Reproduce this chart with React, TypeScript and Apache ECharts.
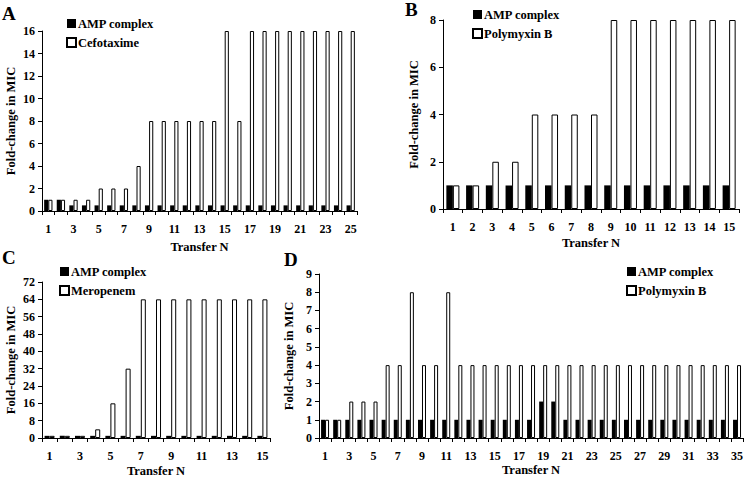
import { useEffect, useRef } from 'react';
import * as echarts from 'echarts';

// Panel A: cefotaxime, 25 transfers
const transfersA = ['1', '2', '3', '4', '5', '6', '7', '8', '9', '10', '11', '12', '13', '14', '15', '16', '17', '18', '19', '20', '21', '22', '23', '24', '25'];
const ampA = [1, 1, 0.5, 0.5, 0.5, 0.5, 0.5, 0.5, 0.5, 0.5, 0.5, 0.5, 0.5, 0.5, 0.5, 0.5, 0.5, 0.5, 0.5, 0.5, 0.5, 0.5, 0.5, 0.5, 0.5];
const cefotaxime = [1, 1, 1, 1, 2, 2, 2, 4, 8, 8, 8, 8, 8, 8, 16, 8, 16, 16, 16, 16, 16, 16, 16, 16, 16];

// Panel B: polymyxin B, 15 transfers
const transfersB = ['1', '2', '3', '4', '5', '6', '7', '8', '9', '10', '11', '12', '13', '14', '15'];
const ampB = [1, 1, 1, 1, 1, 1, 1, 1, 1, 1, 1, 1, 1, 1, 1];
const polymyxinB = [1, 1, 2, 2, 4, 4, 4, 4, 8, 8, 8, 8, 8, 8, 8];

// Panel C: meropenem, 15 transfers
const transfersC = ['1', '2', '3', '4', '5', '6', '7', '8', '9', '10', '11', '12', '13', '14', '15'];
const ampC = [1, 1, 1, 1, 1, 1, 1, 1, 1, 1, 1, 1, 1, 1, 1];
const meropenem = [1, 1, 1, 4, 16, 32, 64, 64, 64, 64, 64, 64, 64, 64, 64];

// Panel D: polymyxin B, 35 transfers
const transfersD = ['1', '2', '3', '4', '5', '6', '7', '8', '9', '10', '11', '12', '13', '14', '15', '16', '17', '18', '19', '20', '21', '22', '23', '24', '25', '26', '27', '28', '29', '30', '31', '32', '33', '34', '35'];
const ampD = [1, 1, 1, 1, 1, 1, 1, 1, 1, 1, 1, 1, 1, 1, 1, 1, 1, 1, 2, 2, 1, 1, 1, 1, 1, 1, 1, 1, 1, 1, 1, 1, 1, 1, 1];
const polymyxinD = [1, 1, 2, 2, 2, 4, 4, 8, 4, 4, 8, 4, 4, 4, 4, 4, 4, 4, 4, 4, 4, 4, 4, 4, 4, 4, 4, 4, 4, 4, 4, 4, 4, 4, 4];

const FONT = 'Liberation Serif';

const panels = [
  { letter: 'A', cats: transfersA, amp: ampA, drug: cefotaxime, drugName: 'Cefotaxime', max: 16, interval: 2, labelEvery: 1,
    grid: { left: 42, top: 31, width: 315, height: 180 }, xGap: 29, yGap: 25, legend: { left: 66, top: 17 }, letterPos: { x: 2, y: 4 } },
  { letter: 'B', cats: transfersB, amp: ampB, drug: polymyxinB, drugName: 'Polymyxin B', max: 8, interval: 2, labelEvery: 0,
    grid: { left: 443, top: 20, width: 296, height: 189 }, xGap: 27, yGap: 23, legend: { left: 472, top: 8 }, letterPos: { x: 405, y: 0 } },
  { letter: 'C', cats: transfersC, amp: ampC, drug: meropenem, drugName: 'Meropenem', max: 72, interval: 8, labelEvery: 1,
    grid: { left: 42, top: 282, width: 228, height: 156 }, xGap: 26, yGap: 25, legend: { left: 59, top: 265 }, letterPos: { x: 2, y: 248 } },
  { letter: 'D', cats: transfersD, amp: ampD, drug: polymyxinD, drugName: 'Polymyxin B', max: 9, interval: 1, labelEvery: 1,
    grid: { left: 319, top: 274, width: 426, height: 164 }, xGap: 25, yGap: 22, legend: { left: 626, top: 265 }, letterPos: { x: 284, y: 250 } },
];

export default function App() {
  const chartRef = useRef<HTMLDivElement>(null);

  useEffect(() => {
    if (!chartRef.current) return;
    const chart = echarts.init(chartRef.current, undefined, { renderer: 'svg' });

    const axisLine = { lineStyle: { color: '#000', width: 1 } };
    const tickFont = { color: '#000', fontFamily: FONT, fontWeight: 'bold' as const, fontSize: 12 };
    const nameFont = { color: '#000', fontFamily: FONT, fontWeight: 'bold' as const, fontSize: 12.5 };

    const option: echarts.EChartsOption = {
      animation: false,
      backgroundColor: '#fff',
      grid: panels.map(p => ({ ...p.grid })),
      xAxis: panels.map((p, i) => ({
        type: 'category',
        gridIndex: i,
        data: p.cats,
        name: 'Transfer N',
        nameLocation: 'middle',
        nameGap: p.xGap,
        nameTextStyle: nameFont,
        axisLine,
        axisTick: { show: true, interval: 0, length: 4, lineStyle: { color: '#000' } },
        axisLabel: { ...tickFont, interval: p.labelEvery, margin: 12 },
      })),
      yAxis: panels.map((p, i) => ({
        type: 'value',
        gridIndex: i,
        min: 0,
        max: p.max,
        interval: p.interval,
        name: 'Fold-change in MIC',
        nameLocation: 'middle',
        nameGap: p.yGap,
        nameTextStyle: nameFont,
        axisLine: { show: true, ...axisLine },
        axisTick: { show: true, length: 4, lineStyle: { color: '#000' } },
        axisLabel: { ...tickFont, margin: 7 },
        splitLine: { show: false },
      })),
      legend: panels.map(p => ({
        data: ['AMP complex', p.drugName],
        orient: 'vertical',
        left: p.legend.left,
        top: p.legend.top,
        icon: 'rect',
        itemWidth: 9,
        itemHeight: 9,
        itemGap: 6,
        padding: 0,
        selectedMode: false,
        textStyle: { ...nameFont, padding: [0, 0, 0, -3] },
      })),
      graphic: panels.map(p => ({
        type: 'text',
        x: p.letterPos.x,
        y: p.letterPos.y,
        style: { text: p.letter, fill: '#000', font: `bold 19px ${FONT}` },
      })),
      series: panels.flatMap((p, i) => [
        {
          type: 'bar',
          name: 'AMP complex',
          xAxisIndex: i,
          yAxisIndex: i,
          data: p.amp,
          barGap: '0%',
          barCategoryGap: '34%',
          itemStyle: { color: '#000' },
        },
        {
          type: 'bar',
          name: p.drugName,
          xAxisIndex: i,
          yAxisIndex: i,
          data: p.drug,
          barGap: '0%',
          barCategoryGap: '34%',
          itemStyle: { color: '#fff', borderColor: '#000', borderWidth: 1 },
        },
      ]),
    };

    chart.setOption(option);

    return () => {
      chart.dispose();
    };
  }, []);

  return (
    <div
      ref={chartRef}
      style={{ position: 'fixed', left: 0, top: 0, width: '746px', height: '478px', background: '#fff' }}
    />
  );
}
